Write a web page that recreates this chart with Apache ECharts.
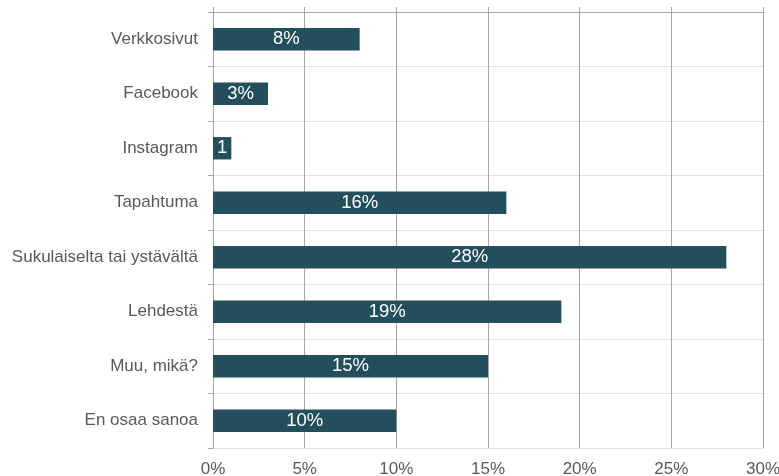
<!DOCTYPE html>
<html>
<head>
<meta charset="utf-8">
<style>
  html, body { margin: 0; padding: 0; background: #ffffff; overflow: hidden; }
  #chart { width: 779px; height: 476px; }
</style>
<script src="https://cdn.jsdelivr.net/npm/echarts@6/dist/echarts.min.js"></script>
</head>
<body>
<div id="chart"></div>
<script>
// Where respondents heard about the event, share of answers (%)
const categories = [
  'Verkkosivut',
  'Facebook',
  'Instagram',
  'Tapahtuma',
  'Sukulaiselta tai ystävältä',
  'Lehdestä',
  'Muu, mikä?',
  'En osaa sanoa'
];
const shares = [8, 3, 1, 16, 28, 19, 15, 10];
const tickValues = [0, 5, 10, 15, 20, 25, 30];

const axisGray = '#a6a6a6';
const textGray = '#595959';
const barColor = '#234e5b';
const font = 'Liberation Sans, Arial, sans-serif';

const chart = echarts.init(document.getElementById('chart'), null, { renderer: 'canvas' });

const valueMin = tickValues[0];
const valueMax = tickValues[tickValues.length - 1];
const valueStep = tickValues[1] - tickValues[0];

chart.setOption({
  animation: false,
  backgroundColor: '#ffffff',
  grid: {
    left: 213, right: 16, top: 12, bottom: 28,
    containLabel: false,
    outerBoundsMode: 'none'
  },
  xAxis: [
    {
      type: 'value',
      position: 'bottom',
      min: valueMin,
      max: valueMax,
      interval: valueStep,
      axisLine: { show: false },
      axisTick: { show: false },
      axisLabel: {
        formatter: '{value}%',
        color: textGray,
        fontFamily: font,
        fontSize: 17,
        margin: 13
      },
      splitLine: { show: true, lineStyle: { color: axisGray, width: 1 } }
    },
    {
      type: 'value',
      position: 'top',
      min: valueMin,
      max: valueMax,
      interval: valueStep,
      axisLine: { show: true, lineStyle: { color: axisGray, width: 1 } },
      axisTick: { show: true, length: 5, lineStyle: { color: axisGray } },
      axisLabel: { show: false },
      splitLine: { show: false }
    }
  ],
  yAxis: {
    type: 'category',
    data: categories,
    inverse: true,
    axisLine: { show: true, lineStyle: { color: axisGray, width: 1 } },
    axisTick: { show: true, length: 5, lineStyle: { color: axisGray } },
    axisLabel: {
      color: textGray,
      fontFamily: font,
      fontSize: 17,
      margin: 15
    },
    splitLine: { show: true, lineStyle: { color: '#e2e2e2', width: 1 } }
  },
  series: [
    {
      type: 'bar',
      xAxisIndex: 0,
      data: shares,
      barWidth: '41%',
      itemStyle: { color: barColor },
      label: {
        show: true,
        position: 'inside',
        color: '#ffffff',
        fontFamily: font,
        fontSize: 18.5,
        // very short bars only have room for the number itself
        formatter: p => (p.value < 2 ? String(p.value) : p.value + '%')
      }
    }
  ]
});
</script>
</body>
</html>
